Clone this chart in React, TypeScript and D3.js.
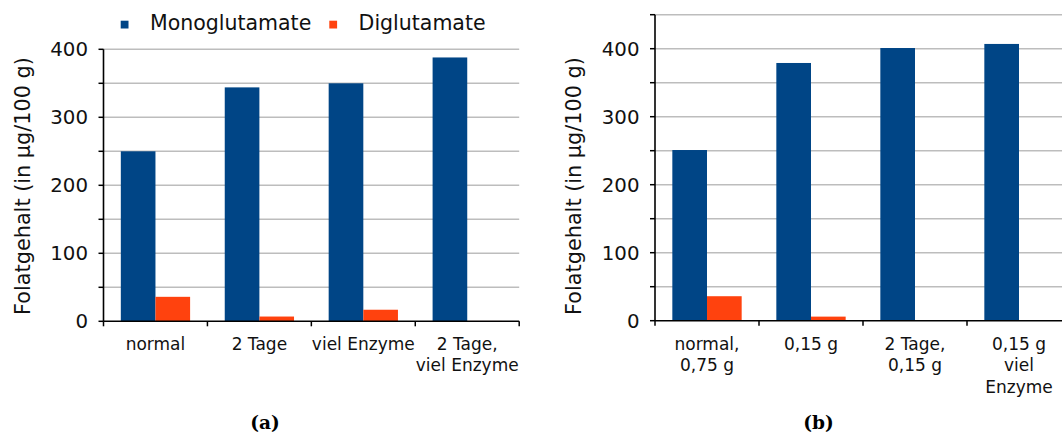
import React from "react";
import * as d3 from "d3";

// Series shared by both panels
const seriesNames = ["Monoglutamate", "Diglutamate"];
const seriesColors = ["#004586", "#ff420e"];

// Panel (a): fermentation conditions
const categoriesA = ["normal", "2 Tage", "viel Enzyme", "2 Tage,\nviel Enzyme"];
const monoA = [250, 344, 350, 388];
const diA = [36, 7, 17, 0.5];

// Panel (b): enzyme amount
const categoriesB = ["normal,\n0,75 g", "0,15 g", "2 Tage,\n0,15 g", "0,15 g\nviel\nEnzyme"];
const monoB = [251, 379, 401, 407];
const diB = [36, 6, 0, 0];

const yTitle = "Folatgehalt (in µg/100 g)";
const FONT = "'DejaVu Sans', sans-serif";

type PanelProps = {
  categories: string[];
  mono: number[];
  di: number[];
  left: number;
  right: number;
  bottom: number;
  top: number;
  yMax: number;
  caption: string;
  captionX: number;
};

function Panel({ categories, mono, di, left, right, bottom, top, yMax, caption, captionX }: PanelProps) {
  const x = d3.scaleBand<string>().domain(categories).range([left, right]).paddingInner(0).paddingOuter(0);
  const bw = x.bandwidth();
  const inner = d3.scaleBand<string>().domain(seriesNames).range([bw / 6, (bw * 5) / 6]);
  const y = d3.scaleLinear().domain([0, yMax]).range([bottom, top]);
  const ticks = d3.range(0, yMax + 1, 50);
  const values = [mono, di];

  return (
    <g>
      {/* gridlines */}
      {ticks
        .filter((t) => t > 0)
        .map((t) => (
          <line key={"g" + t} x1={left} x2={right} y1={y(t)} y2={y(t)} stroke="#bdbdbd" strokeWidth={1.4} />
        ))}
      {/* bars */}
      {categories.map((c, i) =>
        seriesNames.map((s, k) => (
          <rect
            key={c + s}
            x={(x(c) as number) + (inner(s) as number)}
            y={y(values[k][i])}
            width={inner.bandwidth()}
            height={bottom - y(values[k][i])}
            fill={seriesColors[k]}
          />
        ))
      )}
      {/* y axis */}
      <line x1={left} x2={left} y1={y(yMax)} y2={bottom} stroke="#000" strokeWidth={1.6} />
      {ticks.map((t) => (
        <line key={"t" + t} x1={left - 5} x2={left} y1={y(t)} y2={y(t)} stroke="#000" strokeWidth={1.5} />
      ))}
      {ticks
        .filter((t) => t % 100 === 0)
        .map((t) => (
          <text
            key={"l" + t}
            x={left - 15.5}
            y={y(t)}
            dy="0.36em"
            textAnchor="end"
            fontFamily={FONT}
            fontSize={19.8}
            fill="#111"
          >
            {t}
          </text>
        ))}
      {/* x axis */}
      <line x1={left} x2={right} y1={bottom} y2={bottom} stroke="#000" strokeWidth={1.6} />
      {[...categories.map((c) => x(c) as number), right].map((px, i) => (
        <line key={"xt" + i} x1={px} x2={px} y1={bottom} y2={bottom + 5} stroke="#000" strokeWidth={1.5} />
      ))}
      {categories.map((c) => (
        <text
          key={"c" + c}
          x={(x(c) as number) + bw / 2}
          y={349.5}
          textAnchor="middle"
          fontFamily={FONT}
          fontSize={17}
          fill="#111"
        >
          {c.split("\n").map((line, j) => (
            <tspan key={j} x={(x(c) as number) + bw / 2} dy={j === 0 ? 0 : 21.5}>
              {line}
            </tspan>
          ))}
        </text>
      ))}
      {/* y axis title */}
      <text
        transform={`translate(${left - 73.8},186) rotate(-90)`}
        textAnchor="middle"
        fontFamily={FONT}
        fontSize={20.8}
        fill="#111"
      >
        {yTitle}
      </text>
      {/* caption */}
      <text
        x={captionX}
        y={429}
        textAnchor="middle"
        fontFamily="'DejaVu Serif', serif"
        fontWeight="bold"
        fontSize={18.5}
        fill="#000"
      >
        {caption}
      </text>
    </g>
  );
}

export default function App() {
  const legendX = [120.7, 329.3];
  return (
    <svg
      width={1062}
      height={436}
      style={{ position: "absolute", left: 0, top: 0, display: "block", background: "#fff" }}
    >
      <Panel
        categories={categoriesA}
        mono={monoA}
        di={diA}
        left={103.5}
        right={519.2}
        bottom={321.3}
        top={49.3}
        yMax={400}
        caption="(a)"
        captionX={265}
      />
      <Panel
        categories={categoriesB}
        mono={monoB}
        di={diB}
        left={655}
        right={1071}
        bottom={320.7}
        top={14.7}
        yMax={450}
        caption="(b)"
        captionX={818.5}
      />
      {/* legend */}
      {seriesNames.map((s, k) => (
        <g key={s}>
          <rect x={legendX[k]} y={20.7} width={7.8} height={7.8} fill={seriesColors[k]} />
          <text x={legendX[k] + 29.3} y={30} fontFamily={FONT} fontSize={20.5} fill="#111">
            {s}
          </text>
        </g>
      ))}
    </svg>
  );
}
